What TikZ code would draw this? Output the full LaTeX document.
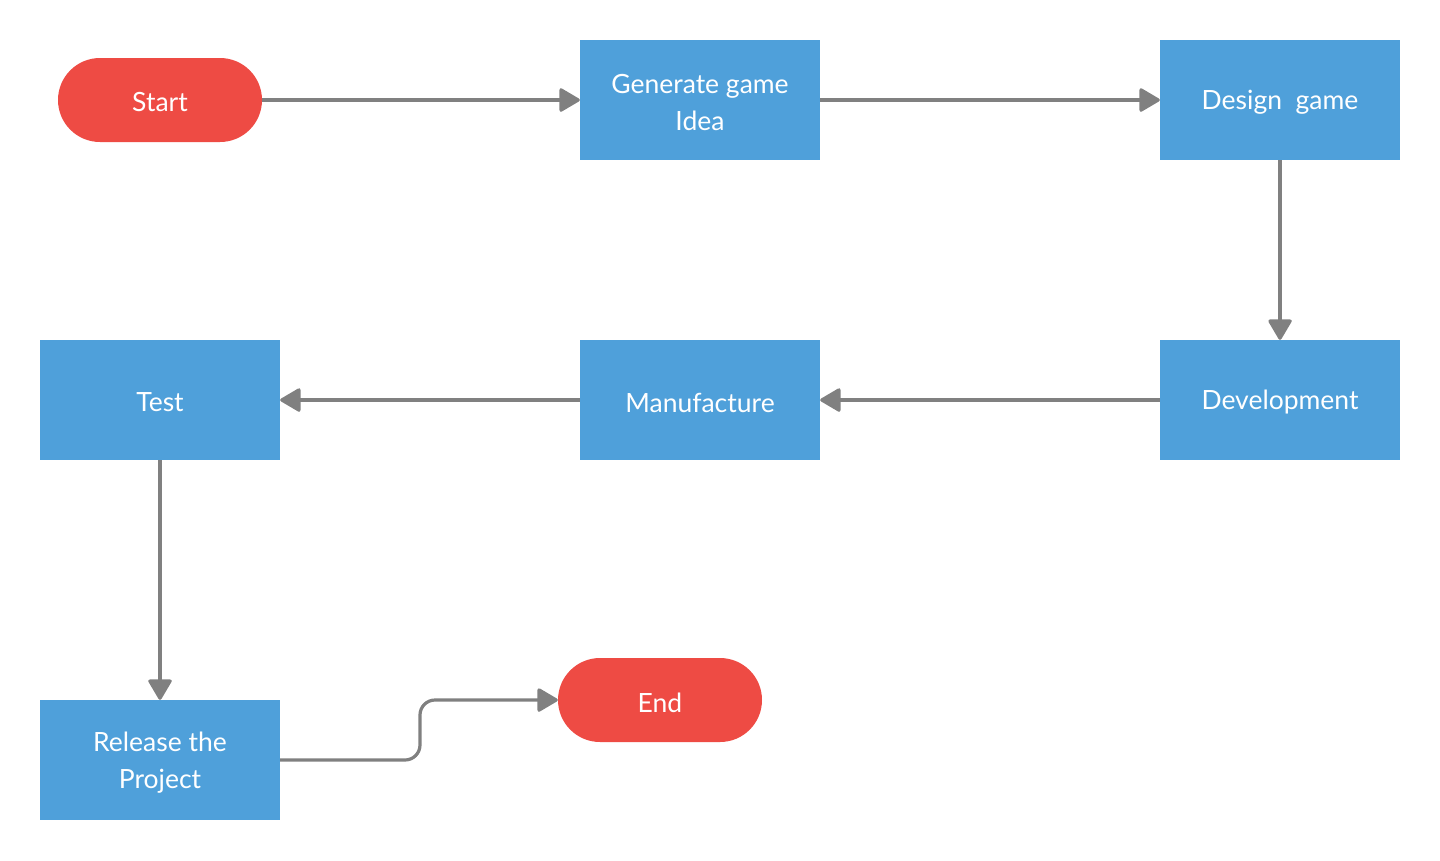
\documentclass[tikz,border=0pt]{standalone}
\usepackage{fontspec}
\setmainfont{Lato}
\usetikzlibrary{arrows.meta}
\definecolor{flowblue}{HTML}{4FA0DA}
\definecolor{flowred}{HTML}{EE4B44}
\definecolor{flowgray}{HTML}{808080}
\begin{document}
\begin{tikzpicture}[x=1pt,y=-1pt,
  every node/.style={inner sep=0pt},
  caption/.style={font=\fontsize{26.5}{37}\selectfont, text=white, align=center, yshift=-2.5pt},
  process/.style={rectangle, fill=flowblue, minimum width=240pt, minimum height=120pt},
  terminal/.style={rectangle, rounded corners=42pt, fill=flowred, minimum width=204pt, minimum height=84pt},
  link/.style={draw=flowgray, line width=3.2pt, -{Triangle[length=22pt,width=25pt,round]}}
]
\useasboundingbox (0,0) rectangle (1440,860);
% shapes
\node[terminal] (start) at (160,100) {};
\node[process] (idea) at (700,100) {};
\node[process] (design) at (1280,100) {};
\node[process] (dev) at (1280,400) {};
\node[process] (manu) at (700,400) {};
\node[process] (test) at (160,400) {};
\node[process] (release) at (160,760) {};
\node[terminal] (end) at (660,700) {};
% texts
\node[caption] (starttext) at (start.center) {Start};
\node[caption] (ideatext) at (idea.center) {Generate game\\Idea};
\node[caption] (designtext) at (design.center) {Design~~game};
\node[caption] (devtext) at (dev.center) {Development};
\node[caption] (manutext) at (manu.center) {Manufacture};
\node[caption] (testtext) at (test.center) {Test};
\node[caption] (releasetext) at (release.center) {Release the\\Project};
\node[caption] (endtext) at (end.center) {End};
% connectors
\draw[link] (start) -- (idea);
\draw[link] (idea) -- (design);
\draw[link] (design) -- (dev);
\draw[link] (dev) -- (manu);
\draw[link] (manu) -- (test);
\draw[link] (test) -- (release);
\draw[link, rounded corners=15pt] (release.east) -- (420,760) -- (420,700) -- (end.west);
\end{tikzpicture}
\end{document}
